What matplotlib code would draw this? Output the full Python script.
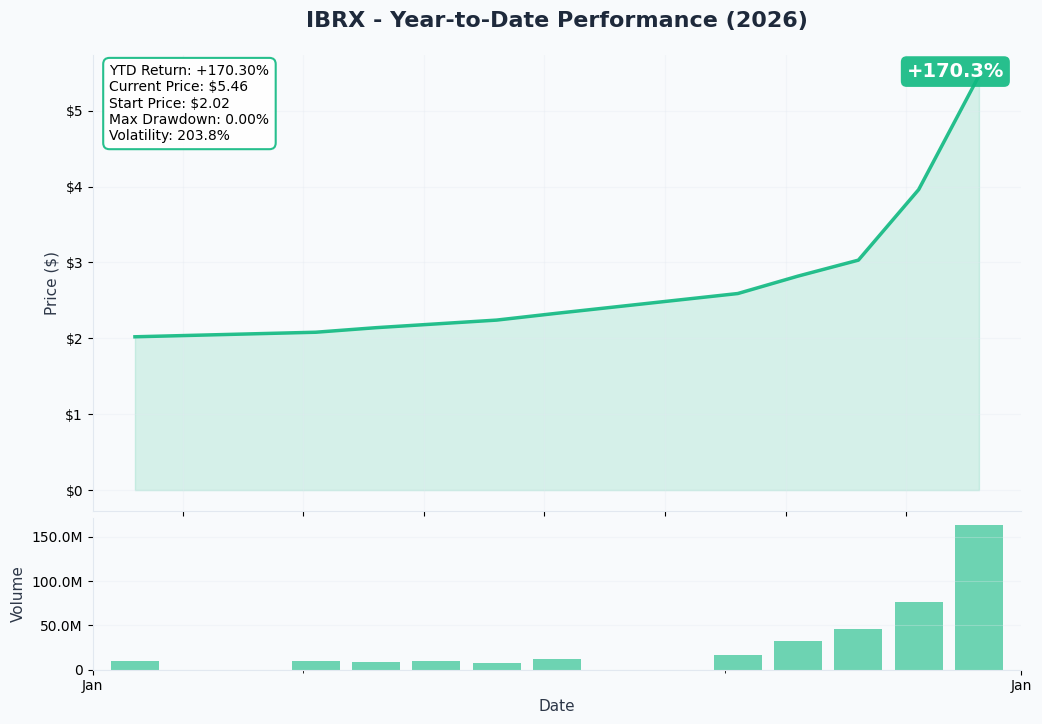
import pandas as pd
import matplotlib
matplotlib.use('Agg')
import matplotlib.pyplot as plt
import matplotlib.dates as mdates
from matplotlib.ticker import FuncFormatter

ticker = 'IBRX'
dates = ['2026-01-02 05:00', '2026-01-05 05:00', '2026-01-06 05:00', '2026-01-07 05:00',
         '2026-01-08 05:00', '2026-01-09 05:00', '2026-01-12 05:00', '2026-01-13 05:00',
         '2026-01-14 05:00', '2026-01-15 05:00', '2026-01-16 05:00']
prices = [2.02, 2.08, 2.14, 2.19, 2.24, 2.33, 2.59, 2.82, 3.03, 3.96, 5.46]
volumes = [10.2e6, 10.2e6, 9.0e6, 10.2e6, 7.9e6, 12.4e6, 16.9e6, 32.7e6, 46.2e6, 76.7e6, 163.5e6]
stats_text = ('YTD Return: +170.30%\nCurrent Price: $5.46\nStart Price: $2.02\n'
              'Max Drawdown: 0.00%\nVolatility: 203.8%')
badge = '+170.3%'

green = '#10b981'
bg = '#f8fafc'
dark = '#1e293b'
spine_c = '#e2e8f0'

x = pd.to_datetime(dates)

fig = plt.figure(figsize=(10.42, 7.24), dpi=100, facecolor=bg)
gs = fig.add_gridspec(2, 1, height_ratios=[3, 1], hspace=0.023,
                      left=0.089, right=0.98, top=0.924, bottom=0.075)
ax1 = fig.add_subplot(gs[0])
ax2 = fig.add_subplot(gs[1])

for ax in (ax1, ax2):
    ax.set_facecolor(bg)
    ax.spines['top'].set_visible(False)
    ax.spines['right'].set_visible(False)
    ax.spines['left'].set_color(spine_c)
    ax.spines['bottom'].set_color(spine_c)

# price
ax1.plot(x, prices, color=green, linewidth=2.5, alpha=0.9)
ax1.fill_between(x, prices, 0, color=green, alpha=0.15)
ax1.yaxis.set_major_formatter(FuncFormatter(lambda v, p: f'${v:.0f}'))
ax1.set_ylabel('Price ($)', fontsize=11, color='#2d3748')
ax1.xaxis.set_major_locator(mdates.DayLocator(bymonthday=range(1, 32, 2)))
ax1.set_xticklabels([])
ax1.grid(True, color='#e2e8f0', alpha=0.3, linewidth=0.8)
ax1.set_title(f'{ticker} - Year-to-Date Performance (2026)', fontsize=16,
              fontweight='bold', color=dark, pad=20)

ax1.text(0.018, 0.98, stats_text, transform=ax1.transAxes, fontsize=10,
         va='top', ha='left',
         bbox=dict(boxstyle='round,pad=0.45', facecolor='white', edgecolor=green,
                   linewidth=1.5, alpha=0.9))

ax1.annotate(badge, xy=(x[-1], prices[-1]), xytext=(-17, 3), textcoords='offset points',
             ha='center', va='center', fontsize=14, fontweight='bold', color='white',
             bbox=dict(boxstyle='round,pad=0.3', facecolor=green, edgecolor='none', alpha=0.9))

xlim = ax1.get_xlim()

# volume
ax2.bar(x, volumes, width=0.8, color=green, alpha=0.6)
ax2.set_xlim(xlim)
ax2.yaxis.set_major_formatter(FuncFormatter(lambda v, p: '0' if v == 0 else f'{v/1e6:.1f}M'))
ax2.set_xticks(list(xlim))
ax2.set_xticklabels(['Jan', 'Jan'])
ax2.xaxis.set_minor_locator(mdates.WeekdayLocator(byweekday=mdates.MO))
ax2.set_ylabel('Volume', fontsize=11, color='#2d3748')
ax2.set_xlabel('Date', fontsize=11, color='#2d3748')
ax2.grid(True, axis='y', color='#e2e8f0', alpha=0.3, linewidth=0.8)

ax1.set_xlim(xlim)

plt.savefig('out.png', dpi=100, facecolor=bg)
